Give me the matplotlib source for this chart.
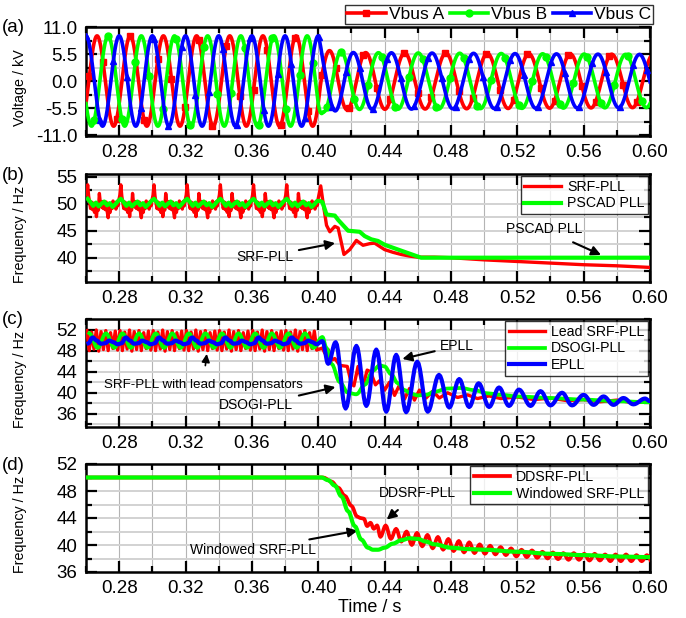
import numpy as np
import matplotlib
matplotlib.use("Agg")
import matplotlib.pyplot as plt
from matplotlib.ticker import FixedLocator

plt.rcParams['font.family'] = ['Liberation Sans', 'DejaVu Sans']

# ------------------------------------------------------------------ data
t_start, t_fault, t_end = 0.26, 0.40, 0.60

# (a) bus voltages (frequency / amplitude)
vbus_names = ["Vbus A", "Vbus B", "Vbus C"]
vbus_shift_deg = [-120.0, -240.0, 0.0]      # phase lag relative to Vbus C
vbus_c_peak_time = 0.28
vbus_freq_t = [0.26, 0.40, 0.405, 0.41, 0.418, 0.425, 0.43, 0.435, 0.462, 0.60]
vbus_freq_hz = [50.0, 50.0, 48.0, 48.0, 45.0, 45.0, 43.5, 43.3, 40.0, 40.0]
vbus_amp_t = [0.26, 0.40, 0.403, 0.42, 0.60]
vbus_amp_kv = [9.2, 9.2, 6.3, 5.8, 5.4]

# (b) SRF-PLL / PSCAD PLL
srf_period = 0.02
srf_first_spike = 0.261
srf_ripple_hz = [53.5, 51.4, 50.2, 49.1, 50.3, 48.9, 50.1, 48.4, 49.8, 47.6,
                 49.5, 48.8, 51.9, 50.1, 49.4, 50.4, 49.1, 50.0, 48.9, 50.3,
                 48.6, 47.4, 49.6, 48.4, 50.0, 49.1, 50.5, 49.3, 50.2, 49.0,
                 50.4, 49.6, 50.7, 51.6]
srf_post_t = [0.4015, 0.403, 0.405, 0.407, 0.410, 0.412, 0.4155, 0.419, 0.423,
              0.427, 0.431, 0.434, 0.437, 0.440, 0.445, 0.450, 0.455, 0.460,
              0.470, 0.480, 0.500, 0.520, 0.540, 0.560, 0.580, 0.600]
srf_post_hz = [53.3, 50.0, 46.0, 44.8, 45.8, 45.5, 40.6, 41.5, 43.2, 42.3,
               42.6, 42.7, 42.1, 41.5, 41.0, 40.6, 40.3, 40.1, 40.1, 40.0,
               39.6, 39.3, 39.0, 38.7, 38.5, 38.2]
pscad_ripple_hz = [50.9, 50.3, 49.6, 50.2, 49.5, 50.0, 50.4, 49.7, 50.1, 49.4,
                   49.9, 50.5]
pscad_post_t = [0.401, 0.4025, 0.405, 0.410, 0.412, 0.418, 0.425, 0.428, 0.432,
                0.436, 0.440, 0.450, 0.462, 0.600]
pscad_post_hz = [50.5, 50.3, 48.0, 47.8, 47.0, 45.0, 44.8, 44.0, 43.4, 43.1,
                 42.4, 41.3, 40.0, 40.0]

# (c) Lead SRF-PLL / DSOGI-PLL / EPLL
lead_ripple_hz = [51.8, 48.0, 51.5, 48.3, 51.9, 47.9, 51.6, 48.2, 51.8, 48.0,
                  51.4, 48.4, 51.7, 48.1]
lead_post_t = [0.4025, 0.404, 0.406, 0.408, 0.410, 0.413, 0.4175, 0.420, 0.4215,
               0.424, 0.427, 0.4295, 0.4315, 0.4345, 0.437, 0.440, 0.443, 0.446,
               0.449, 0.452, 0.455, 0.458, 0.461, 0.465, 0.469, 0.473, 0.478,
               0.484, 0.490, 0.496, 0.503, 0.510, 0.520, 0.530, 0.540, 0.550,
               0.560, 0.570, 0.580, 0.590, 0.600]
lead_post_hz = [48.5, 47.5, 48.2, 46.2, 46.5, 45.2, 45.0, 41.8, 41.3, 45.0,
                41.2, 44.3, 44.0, 41.5, 42.3, 40.5, 42.0, 39.5, 41.5, 38.8,
                40.8, 38.6, 40.5, 39.0, 40.3, 39.0, 40.0, 39.1, 39.6, 38.9,
                39.4, 38.9, 39.2, 38.7, 39.0, 38.5, 38.7, 38.3, 38.6, 38.1, 38.3]
dsogi_ripple_hz = [51.3, 48.5]
dsogi_post_t = [0.4025, 0.405, 0.408, 0.413, 0.418, 0.423, 0.428, 0.433, 0.437,
                0.440, 0.444, 0.448, 0.452, 0.456, 0.460, 0.465, 0.470, 0.478,
                0.486, 0.494, 0.502, 0.510, 0.520, 0.540, 0.560, 0.580, 0.600]
dsogi_post_hz = [50.6, 48.5, 45.5, 42.0, 40.0, 39.7, 41.5, 44.2, 45.2, 45.0,
                 43.5, 41.8, 40.5, 39.8, 39.5, 39.6, 40.2, 40.8, 40.9, 40.5,
                 39.9, 39.6, 39.3, 39.0, 38.7, 38.4, 38.2]
epll_ripple_hz = [50.5, 49.9, 49.3, 49.4, 49.9, 49.6, 49.2, 49.4]
epll_first_bump = 0.264
epll_post_t = [0.4025, 0.406, 0.4105, 0.4165, 0.423, 0.429, 0.435, 0.441, 0.447,
               0.453, 0.4597, 0.466, 0.4728, 0.479, 0.485, 0.491, 0.4967, 0.503,
               0.509, 0.515, 0.521, 0.528, 0.534, 0.540, 0.547, 0.553, 0.560,
               0.566, 0.572, 0.578, 0.584, 0.590, 0.597, 0.600]
epll_post_hz = [49.8, 45.5, 49.6, 37.0, 48.9, 37.5, 48.2, 36.4, 47.2, 36.3,
                45.9, 36.4, 43.4, 37.2, 42.6, 37.3, 41.8, 37.3, 41.0, 37.5,
                40.6, 37.5, 40.3, 37.6, 40.0, 37.6, 39.6, 37.7, 39.3, 37.7,
                39.0, 37.8, 38.9, 38.4]

# (d) DDSRF-PLL / Windowed SRF-PLL
ddsrf_t = [0.26, 0.403, 0.408, 0.412, 0.416, 0.420, 0.4235, 0.4255, 0.4275,
           0.4295, 0.4315, 0.4335, 0.4355]
ddsrf_hz = [50.0, 50.0, 49.4, 48.5, 47.3, 45.8, 44.2, 44.0, 43.9, 42.8, 43.3, 42.4, 42.9]
ddsrf_ripple_start = 0.4375
ddsrf_ripple_halfperiod = 0.00315
ddsrf_ripple_hz = [41.2, 42.9, 40.9, 42.4, 40.5, 42.0, 40.0, 41.8, 39.8, 41.5,
                   39.5, 41.2, 39.3, 40.9, 39.1, 40.6, 38.9, 40.4, 38.8, 40.1,
                   38.7, 39.9, 38.6, 39.7, 38.5, 39.5, 38.3, 39.3, 38.2, 39.2,
                   38.1, 39.0, 38.0, 38.9, 37.9, 38.8, 37.8, 38.8, 37.8, 38.7,
                   37.7, 38.7, 37.7, 38.6, 37.6, 38.6, 37.6, 38.6, 37.6, 38.5,
                   37.6, 38.5, 37.5, 38.5, 37.5]
windowed_t = [0.26, 0.402, 0.406, 0.410, 0.414, 0.418, 0.422, 0.426, 0.430,
              0.433, 0.436, 0.440, 0.445, 0.450, 0.455, 0.460, 0.465, 0.470,
              0.480, 0.490, 0.500, 0.520, 0.540, 0.560, 0.580, 0.600]
windowed_hz = [50.0, 50.0, 49.6, 48.8, 47.2, 45.0, 42.8, 40.8, 39.6, 39.3,
               39.3, 39.6, 40.2, 40.7, 41.0, 40.9, 40.5, 40.1, 39.6, 39.4,
               39.3, 39.0, 38.7, 38.5, 38.3, 38.2]

RED, GREEN, BLUE = "#ff0000", "#00ff00", "#0000ff"


# ------------------------------------------------------------------ helpers
def tile_pattern(values, first, period, t0=t_start, t1=t_fault):
    """Repeat one period of a read ripple pattern between t0 and t1."""
    n = len(values)
    k = int(np.floor((t0 - first) / period)) - 1
    ts, vs = [], []
    while True:
        base = first + k * period
        if base > t1:
            break
        for i, v in enumerate(values):
            tt = base + i * period / n
            if t0 <= tt <= t1:
                ts.append(tt)
                vs.append(v)
        k += 1
    return ts, vs


def smooth_join(ts, vs, n=8):
    """Join consecutive read points with half-cosine segments (drawing only)."""
    out_t, out_v = [ts[0]], [vs[0]]
    for i in range(len(ts) - 1):
        s = np.linspace(0, 1, n + 1)[1:]
        w = (1 - np.cos(np.pi * s)) / 2
        out_t.extend(ts[i] + (ts[i + 1] - ts[i]) * s)
        out_v.extend(vs[i] + (vs[i + 1] - vs[i]) * w)
    return np.array(out_t), np.array(out_v)


# ------------------------------------------------------------------ figure
fig = plt.figure(figsize=(6.86, 6.18), dpi=100)
W, H = 686.0, 618.0
left_px, right_px = 86, 650
tops = [27, 174, 319, 464]
bots = [136, 282, 427, 572]
axs = []
for tp, bt in zip(tops, bots):
    axs.append(fig.add_axes([left_px / W, 1 - bt / H, (right_px - left_px) / W, (bt - tp) / H]))

TICK_FS = 13.5
LEG_FS = 10.2
ANN_FS = 10.0


def style_axis(ax, ylim, ymajor, yminor, ylabels=None):
    ax.set_xlim(t_start, t_end)
    ax.set_ylim(*ylim)
    ax.xaxis.set_major_locator(FixedLocator([0.28, 0.32, 0.36, 0.40, 0.44, 0.48, 0.52, 0.56, 0.60]))
    ax.xaxis.set_minor_locator(FixedLocator([0.26, 0.30, 0.34, 0.38, 0.42, 0.46, 0.50, 0.54, 0.58]))
    ax.set_xticklabels(["0.28", "0.32", "0.36", "0.40", "0.44", "0.48", "0.52", "0.56", "0.60"])
    ax.yaxis.set_major_locator(FixedLocator(ymajor))
    ax.yaxis.set_minor_locator(FixedLocator(yminor))
    if ylabels is not None:
        ax.set_yticklabels(ylabels)
    ax.tick_params(which='major', direction='in', length=8, width=1.6,
                   top=True, right=True, labelsize=TICK_FS)
    ax.tick_params(which='minor', direction='in', length=4, width=1.6,
                   top=True, right=True)
    ax.tick_params(axis='x', which='major', pad=6)
    ax.tick_params(axis='y', which='major', pad=6)
    for s in ax.spines.values():
        s.set_linewidth(1.8)
    for xv in np.arange(0.28, 0.6001, 0.02):
        ax.axvline(xv, color='#b4b4b4', lw=0.8, zorder=0)
    for yv in list(ymajor) + list(yminor):
        if ylim[0] < yv < ylim[1]:
            ax.axhline(yv, color='#d2d2d2', lw=1.4, zorder=0)


def boxed_legend(ax, **kw):
    lg = ax.legend(frameon=True, fancybox=False, **kw)
    lg.get_frame().set_edgecolor('black')
    lg.get_frame().set_linewidth(1.0)
    lg.set_zorder(10)
    return lg


LW = 2.4
ARROW = dict(arrowstyle='-|>', color='black', lw=1.5, mutation_scale=14)

# ---------------- (a)
ax = axs[0]
tt = np.linspace(t_start, t_end, 6801)
fr = np.interp(tt, vbus_freq_t, vbus_freq_hz)
theta = 2 * np.pi * np.concatenate([[0], np.cumsum((fr[1:] + fr[:-1]) / 2 * np.diff(tt))])
theta -= np.interp(vbus_c_peak_time, tt, theta)
amp = np.interp(tt, vbus_amp_t, vbus_amp_kv)
markers = ['s', 'o', '^']
colors = [RED, GREEN, BLUE]
handles = []
for name, sh, mk, col, off in zip(vbus_names, vbus_shift_deg, markers, colors, [40, 100, 0]):
    v = amp * np.cos(theta + np.deg2rad(sh))
    h, = ax.plot(tt, v, color=col, lw=2.6, marker=mk, markersize=5,
                 markevery=(off, 165), label=name, zorder=3)
    handles.append(h)
style_axis(ax, (-11.2, 11.0), [-11, -5.5, 0, 5.5, 11], [-8.25, -2.75, 2.75, 8.25],
           ["-11.0", "-5.5", "0.0", "5.5", "11.0"])
ax.set_ylabel("Voltage / kV", fontsize=10.3)
boxed_legend(ax, handles=handles, loc='lower right', bbox_to_anchor=(1.006, 1.028),
             ncol=3, fontsize=12.5, borderaxespad=0, handlelength=2.2,
             handletextpad=0.2, columnspacing=0.3, borderpad=0.12, numpoints=1)

# ---------------- (b)
ax = axs[1]
st, sv = tile_pattern(srf_ripple_hz, srf_first_spike, srf_period)
ax.plot(st + srf_post_t, sv + srf_post_hz, color=RED, lw=LW, label="SRF-PLL", zorder=3)
pt, pv = tile_pattern(pscad_ripple_hz, srf_first_spike, srf_period)
ax.plot(pt + pscad_post_t, pv + pscad_post_hz, color=GREEN, lw=LW + 0.6, label="PSCAD PLL", zorder=4)
style_axis(ax, (35.5, 55.5), [40, 45, 50, 55], [37.5, 42.5, 47.5, 52.5])
ax.set_ylabel("Frequency / Hz", fontsize=10.3)
ax.annotate("SRF-PLL", xy=(0.4118, 42.8), xytext=(0.385, 40.2), fontsize=ANN_FS,
            ha='right', va='center', arrowprops=ARROW)
ax.annotate("PSCAD PLL", xy=(0.572, 40.3), xytext=(0.536, 45.3), fontsize=ANN_FS,
            ha='center', va='center', arrowprops=dict(ARROW, shrinkA=6))

# ---------------- (c)
ax = axs[2]
lt, lv = tile_pattern(lead_ripple_hz, 0.2605, 0.02)
ax.plot(lt + lead_post_t, lv + lead_post_hz, color=RED, lw=LW, label="Lead SRF-PLL", zorder=3)
dt_, dv_ = tile_pattern(dsogi_ripple_hz, 0.262, 0.01)
dts, dvs = smooth_join(dt_ + dsogi_post_t, dv_ + dsogi_post_hz, n=6)
ax.plot(dts, dvs, color=GREEN, lw=LW + 0.3, label="DSOGI-PLL", zorder=4)
et, ev = tile_pattern(epll_ripple_hz, epll_first_bump, 0.02)
ets, evs = smooth_join(et + epll_post_t, ev + epll_post_hz, n=8)
ax.plot(ets, evs, color=BLUE, lw=LW + 0.6, label="EPLL", zorder=5)
style_axis(ax, (33.5, 54.0), [36, 40, 44, 48, 52], [34, 38, 42, 46, 50, 54])
ax.set_ylabel("Frequency / Hz", fontsize=10.3)
ax.annotate("SRF-PLL with lead compensators", xy=(0.333, 47.9), xytext=(0.3305, 41.4),
            fontsize=9.6, ha='center', va='center',
            arrowprops=dict(ARROW, lw=1.2, mutation_scale=12, shrinkA=8))
ax.annotate("DSOGI-PLL", xy=(0.412, 41.2), xytext=(0.385, 37.6), fontsize=ANN_FS,
            ha='right', va='center', arrowprops=ARROW)
ax.annotate("EPLL", xy=(0.4491, 46.3), xytext=(0.4735, 48.9), fontsize=ANN_FS,
            ha='left', va='center', arrowprops=ARROW)

# ---------------- (d)
ax = axs[3]
rt = ddsrf_t + [ddsrf_ripple_start + i * ddsrf_ripple_halfperiod for i in range(len(ddsrf_ripple_hz))]
rv = ddsrf_hz + ddsrf_ripple_hz
rts, rvs = smooth_join(rt, rv, n=5)
ax.plot(rts, rvs, color=RED, lw=LW + 0.3, label="DDSRF-PLL", zorder=3)
wts, wvs = smooth_join(windowed_t, windowed_hz, n=6)
ax.plot(wts, wvs, color=GREEN, lw=LW + 0.6, label="Windowed SRF-PLL", zorder=4)
style_axis(ax, (36.0, 52.0), [36, 40, 44, 48, 52], [38, 42, 46, 50])
ax.set_ylabel("Frequency / Hz", fontsize=10.3)
ax.annotate("DDSRF-PLL", xy=(0.44, 43.5), xytext=(0.46, 47.7), fontsize=ANN_FS,
            ha='center', va='center', arrowprops=dict(ARROW, shrinkA=8))
ax.annotate("Windowed SRF-PLL", xy=(0.4254, 42.2), xytext=(0.3986, 39.3), fontsize=ANN_FS,
            ha='right', va='center', arrowprops=ARROW)
fig.text(370 / W, 1 - 607 / H, "Time / s", fontsize=13, ha='center', va='center')

for ax in axs[1:]:
    boxed_legend(ax, loc='upper right', fontsize=LEG_FS, borderaxespad=0.15,
                 handlelength=2.6, handletextpad=0.4, borderpad=0.25, labelspacing=0.2)

for ax in axs:
    ax.yaxis.set_label_coords(-0.104, 0.44)

for lab, tp in zip(["(a)", "(b)", "(c)", "(d)"], tops):
    fig.text(2 / W, 1 - (tp + 1) / H, lab, fontsize=13.5, ha='left', va='center')

fig.savefig("out.png", dpi=100)
